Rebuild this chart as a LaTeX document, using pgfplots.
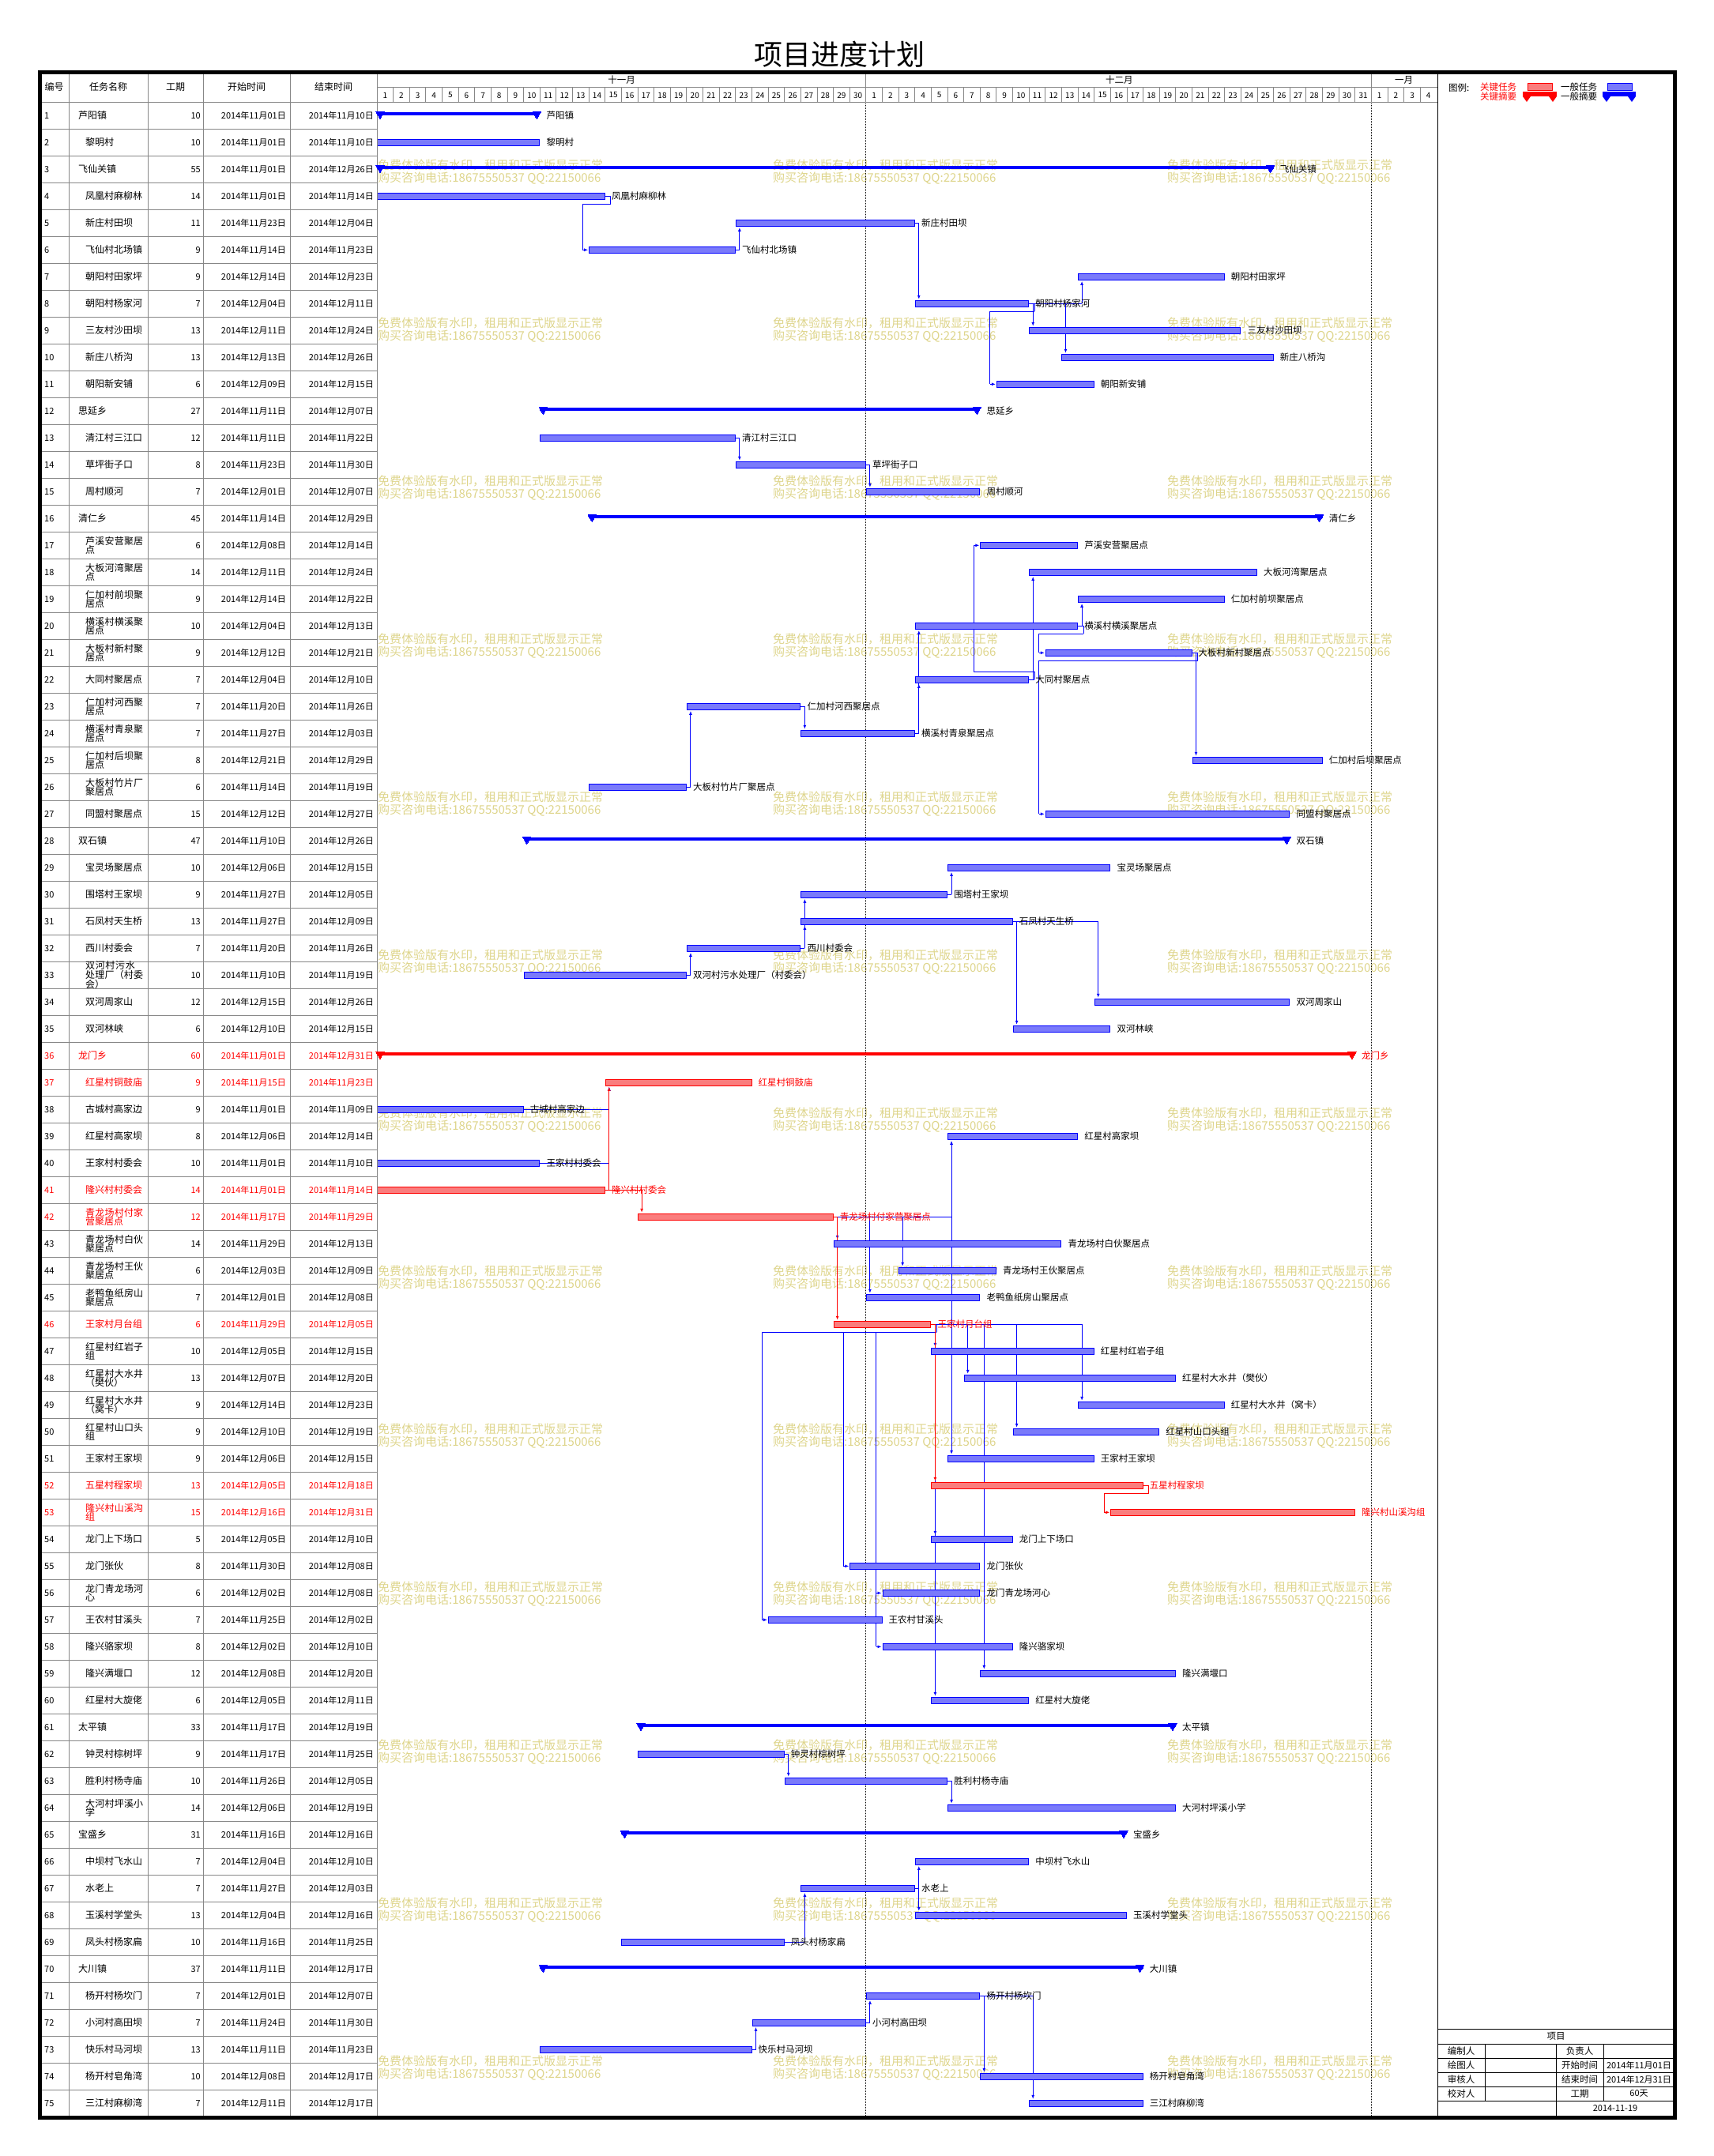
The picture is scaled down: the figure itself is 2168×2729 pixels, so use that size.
\documentclass[border=0pt]{standalone}
\usepackage{fontspec}
\setmainfont{Noto Sans CJK SC}
\usepackage{pgfplots}
\pgfplotsset{compat=1.18}
\usepackage{pgfplotstable}
\usetikzlibrary{arrows.meta}
\XeTeXlinebreaklocale "zh"
\XeTeXlinebreakskip = 0pt plus 1pt

\definecolor{wm}{RGB}{222,213,140}
\definecolor{tb}{RGB}{122,122,250}
\definecolor{tr}{RGB}{250,125,125}
\definecolor{gridc}{RGB}{135,135,135}
\newcommand{\fs}[1]{\fontsize{#1}{#1}\selectfont}

% s = start day (0 = 11月01日), typ: 0 task, 1 key task, 2 summary, 3 key summary
\pgfplotstableread{
id name dur start end s typ crit lvl
1 芦阳镇 10 2014年11月01日 2014年11月10日 0 2 0 1
2 黎明村 10 2014年11月01日 2014年11月10日 0 0 0 2
3 飞仙关镇 55 2014年11月01日 2014年12月26日 0 2 0 1
4 凤凰村麻柳林 14 2014年11月01日 2014年11月14日 0 0 0 2
5 新庄村田坝 11 2014年11月23日 2014年12月04日 22 0 0 2
6 飞仙村北场镇 9 2014年11月14日 2014年11月23日 13 0 0 2
7 朝阳村田家坪 9 2014年12月14日 2014年12月23日 43 0 0 2
8 朝阳村杨家河 7 2014年12月04日 2014年12月11日 33 0 0 2
9 三友村沙田坝 13 2014年12月11日 2014年12月24日 40 0 0 2
10 新庄八桥沟 13 2014年12月13日 2014年12月26日 42 0 0 2
11 朝阳新安铺 6 2014年12月09日 2014年12月15日 38 0 0 2
12 思延乡 27 2014年11月11日 2014年12月07日 10 2 0 1
13 清江村三江口 12 2014年11月11日 2014年11月22日 10 0 0 2
14 草坪街子口 8 2014年11月23日 2014年11月30日 22 0 0 2
15 周村顺河 7 2014年12月01日 2014年12月07日 30 0 0 2
16 清仁乡 45 2014年11月14日 2014年12月29日 13 2 0 1
17 芦溪安营聚居点 6 2014年12月08日 2014年12月14日 37 0 0 2
18 大板河湾聚居点 14 2014年12月11日 2014年12月24日 40 0 0 2
19 仁加村前坝聚居点 9 2014年12月14日 2014年12月22日 43 0 0 2
20 横溪村横溪聚居点 10 2014年12月04日 2014年12月13日 33 0 0 2
21 大板村新村聚居点 9 2014年12月12日 2014年12月21日 41 0 0 2
22 大同村聚居点 7 2014年12月04日 2014年12月10日 33 0 0 2
23 仁加村河西聚居点 7 2014年11月20日 2014年11月26日 19 0 0 2
24 横溪村青泉聚居点 7 2014年11月27日 2014年12月03日 26 0 0 2
25 仁加村后坝聚居点 8 2014年12月21日 2014年12月29日 50 0 0 2
26 大板村竹片厂聚居点 6 2014年11月14日 2014年11月19日 13 0 0 2
27 同盟村聚居点 15 2014年12月12日 2014年12月27日 41 0 0 2
28 双石镇 47 2014年11月10日 2014年12月26日 9 2 0 1
29 宝灵场聚居点 10 2014年12月06日 2014年12月15日 35 0 0 2
30 围塔村王家坝 9 2014年11月27日 2014年12月05日 26 0 0 2
31 石凤村天生桥 13 2014年11月27日 2014年12月09日 26 0 0 2
32 西川村委会 7 2014年11月20日 2014年11月26日 19 0 0 2
33 双河村污水处理厂（村委会） 10 2014年11月10日 2014年11月19日 9 0 0 2
34 双河周家山 12 2014年12月15日 2014年12月26日 44 0 0 2
35 双河林峡 6 2014年12月10日 2014年12月15日 39 0 0 2
36 龙门乡 60 2014年11月01日 2014年12月31日 0 3 1 1
37 红星村铜鼓庙 9 2014年11月15日 2014年11月23日 14 1 1 2
38 古城村高家边 9 2014年11月01日 2014年11月09日 0 0 0 2
39 红星村高家坝 8 2014年12月06日 2014年12月14日 35 0 0 2
40 王家村村委会 10 2014年11月01日 2014年11月10日 0 0 0 2
41 隆兴村村委会 14 2014年11月01日 2014年11月14日 0 1 1 2
42 青龙场村付家营聚居点 12 2014年11月17日 2014年11月29日 16 1 1 2
43 青龙场村白伙聚居点 14 2014年11月29日 2014年12月13日 28 0 0 2
44 青龙场村王伙聚居点 6 2014年12月03日 2014年12月09日 32 0 0 2
45 老鸭鱼纸房山聚居点 7 2014年12月01日 2014年12月08日 30 0 0 2
46 王家村月台组 6 2014年11月29日 2014年12月05日 28 1 1 2
47 红星村红岩子组 10 2014年12月05日 2014年12月15日 34 0 0 2
48 红星村大水井（樊伙） 13 2014年12月07日 2014年12月20日 36 0 0 2
49 红星村大水井（窝卡） 9 2014年12月14日 2014年12月23日 43 0 0 2
50 红星村山口头组 9 2014年12月10日 2014年12月19日 39 0 0 2
51 王家村王家坝 9 2014年12月06日 2014年12月15日 35 0 0 2
52 五星村程家坝 13 2014年12月05日 2014年12月18日 34 1 1 2
53 隆兴村山溪沟组 15 2014年12月16日 2014年12月31日 45 1 1 2
54 龙门上下场口 5 2014年12月05日 2014年12月10日 34 0 0 2
55 龙门张伙 8 2014年11月30日 2014年12月08日 29 0 0 2
56 龙门青龙场河心 6 2014年12月02日 2014年12月08日 31 0 0 2
57 王农村甘溪头 7 2014年11月25日 2014年12月02日 24 0 0 2
58 隆兴骆家坝 8 2014年12月02日 2014年12月10日 31 0 0 2
59 隆兴满堰口 12 2014年12月08日 2014年12月20日 37 0 0 2
60 红星村大旋佬 6 2014年12月05日 2014年12月11日 34 0 0 2
61 太平镇 33 2014年11月17日 2014年12月19日 16 2 0 1
62 钟灵村棕树坪 9 2014年11月17日 2014年11月25日 16 0 0 2
63 胜利村杨寺庙 10 2014年11月26日 2014年12月05日 25 0 0 2
64 大河村坪溪小学 14 2014年12月06日 2014年12月19日 35 0 0 2
65 宝盛乡 31 2014年11月16日 2014年12月16日 15 2 0 1
66 中坝村飞水山 7 2014年12月04日 2014年12月10日 33 0 0 2
67 水老上 7 2014年11月27日 2014年12月03日 26 0 0 2
68 玉溪村学堂头 13 2014年12月04日 2014年12月16日 33 0 0 2
69 凤头村杨家扁 10 2014年11月16日 2014年11月25日 15 0 0 2
70 大川镇 37 2014年11月11日 2014年12月17日 10 2 0 1
71 杨开村杨坎门 7 2014年12月01日 2014年12月07日 30 0 0 2
72 小河村高田坝 7 2014年11月24日 2014年11月30日 23 0 0 2
73 快乐村马河坝 13 2014年11月11日 2014年11月23日 10 0 0 2
74 杨开村皂角湾 10 2014年12月08日 2014年12月17日 37 0 0 2
75 三江村麻柳湾 7 2014年12月11日 2014年12月17日 40 0 0 2
}\tasks

% links: xe = end day of predecessor, yp = its row, xs = start day of successor, ys = its row
\pgfplotstableread{
xe yp xs ys
22 6 22 5
33 5 33 8
40 8 40 9
40 8 42 10
40 8 43 7
22 13 22 14
30 14 30 15
19 26 19 23
26 23 26 24
33 24 33 20
33 24 33 22
43 20 43 19
40 22 40 18
50 21 50 25
19 33 19 32
26 32 26 30
26 32 26 31
35 30 35 29
39 31 39 35
39 31 44 34
9 38 14 37
10 40 14 37
28 42 28 43
28 42 30 45
28 42 32 44
28 42 35 39
28 42 35 51
34 46 34 47
34 46 36 48
34 46 43 49
34 46 39 50
34 46 34 54
34 46 34 60
34 46 37 59
25 62 25 63
35 63 35 64
25 69 26 67
33 67 33 66
33 67 33 68
23 73 23 72
30 72 30 71
37 71 37 74
37 71 40 75
}\fwdblue

\pgfplotstableread{
xe yp xs ys
14 4 13 6
40 8 38 11
40 22 37 17
43 20 41 21
50 21 41 27
34 46 29 55
34 46 31 56
34 46 24 57
34 46 31 58
}\bwdblue

\pgfplotstableread{
xe yp xs ys
14 41 14 37
14 41 16 42
28 42 28 46
34 46 34 52
}\fwdred

\pgfplotstableread{
xe yp xs ys
47 52 45 53
}\bwdred

\newcommand{\fwdlinks}[2]{%
\addplot [#2, line width=1pt, quiver={u=20.63*(\thisrow{xs}-\thisrow{xe})+5, v=0}]
  table [x expr=477+20.63*\thisrow{xe}, y expr=112.3+34*\thisrow{yp}] {#1};
\addplot [#2, line width=1pt, -{Latex[length=5pt,width=4pt]},
  quiver={u=0, v={34*(\thisrow{ys}-\thisrow{yp})-5.5*(\thisrow{ys}-\thisrow{yp})/abs(\thisrow{ys}-\thisrow{yp})}}]
  table [x expr=482+20.63*\thisrow{xs}, y expr=112.3+34*\thisrow{yp}] {#1};
}
\newcommand{\dd}{((\thisrow{ys}-\thisrow{yp})/abs(\thisrow{ys}-\thisrow{yp}))}
\newcommand{\bwdlinks}[2]{%
\addplot [#2, line width=1pt, quiver={u=7, v=0}]
  table [x expr=477+20.63*\thisrow{xe}, y expr=112.3+34*\thisrow{yp}] {#1};
\addplot [#2, line width=1pt, quiver={u=0, v=10*\dd}]
  table [x expr=484+20.63*\thisrow{xe}, y expr=112.3+34*\thisrow{yp}] {#1};
\addplot [#2, line width=1pt, quiver={u=20.63*(\thisrow{xs}-\thisrow{xe})-15, v=0}]
  table [x expr=484+20.63*\thisrow{xe}, y expr=112.3+34*\thisrow{yp}+10*\dd] {#1};
\addplot [#2, line width=1pt, quiver={u=0, v=34*(\thisrow{ys}-\thisrow{yp})-10*\dd}]
  table [x expr=469+20.63*\thisrow{xs}, y expr=112.3+34*\thisrow{yp}+10*\dd] {#1};
\addplot [#2, line width=1pt, -{Latex[length=5pt,width=4pt]}, quiver={u=7, v=0}]
  table [x expr=469+20.63*\thisrow{xs}, y expr=112.3+34*\thisrow{ys}] {#1};
}
% one text column of the table: x, column, anchor, crit, colour
\newcommand{\txtcol}[5]{%
\addplot [draw=none, point meta=explicit symbolic, nodes near coords={\pgfplotspointmeta},
  every node near coord/.append style={anchor=#3, text=#5, inner sep=0pt, font=\fs{11}},
  restrict expr to domain={\thisrow{crit}}{#4:#4}]
  table [x expr={#1}, y expr=112.3+34*\thisrow{id}, meta=#2] {\tasks};
}

\begin{document}
\begin{tikzpicture}
\begin{axis}[
  scale only axis, width=2168pt, height=2729pt,
  xmin=0, xmax=2168, ymin=0, ymax=2729, y dir=reverse,
  hide axis, clip=false,
]
\path (0,0) rectangle (2168,2729);

% watermark
\pgfplotsinvokeforeach{0,...,12}{
  \node[anchor=west, inner sep=0pt, text=wm, font=\fs{15}] at (478,{209+200*#1}) {免费体验版有水印，租用和正式版显示正常};
  \node[anchor=west, inner sep=0pt, text=wm, font=\fs{15}] at (478,{226+200*#1}) {购买咨询电话:18675550537 QQ:22150066};
  \node[anchor=west, inner sep=0pt, text=wm, font=\fs{15}] at (978,{209+200*#1}) {免费体验版有水印，租用和正式版显示正常};
  \node[anchor=west, inner sep=0pt, text=wm, font=\fs{15}] at (978,{226+200*#1}) {购买咨询电话:18675550537 QQ:22150066};
  \node[anchor=west, inner sep=0pt, text=wm, font=\fs{15}] at (1477,{209+200*#1}) {免费体验版有水印，租用和正式版显示正常};
  \node[anchor=west, inner sep=0pt, text=wm, font=\fs{15}] at (1477,{226+200*#1}) {购买咨询电话:18675550537 QQ:22150066};
}

% month dividers (dotted through the chart)
\draw[black, densely dotted, line width=1pt] (1095.9,129.3) -- (1095.9,2680);
\draw[black, densely dotted, line width=1pt] (1735.4,129.3) -- (1735.4,2680);

% links
\fwdlinks{\fwdblue}{blue}
\bwdlinks{\bwdblue}{blue}
\fwdlinks{\fwdred}{red}
\bwdlinks{\bwdred}{red}

% task bars
\addplot [blue, line width=9.5pt, quiver={u=20.63*\thisrow{dur}, v=0}, restrict expr to domain={\thisrow{typ}}{0:0}]
  table [x expr=477+20.63*\thisrow{s}, y expr=112.3+34*\thisrow{id}] {\tasks};
\addplot [tb, line width=7.5pt, quiver={u=20.63*\thisrow{dur}-2, v=0}, restrict expr to domain={\thisrow{typ}}{0:0}]
  table [x expr=478+20.63*\thisrow{s}, y expr=112.3+34*\thisrow{id}] {\tasks};
\addplot [red, line width=9.5pt, quiver={u=20.63*\thisrow{dur}, v=0}, restrict expr to domain={\thisrow{typ}}{1:1}]
  table [x expr=477+20.63*\thisrow{s}, y expr=112.3+34*\thisrow{id}] {\tasks};
\addplot [tr, line width=7.5pt, quiver={u=20.63*\thisrow{dur}-2, v=0}, restrict expr to domain={\thisrow{typ}}{1:1}]
  table [x expr=478+20.63*\thisrow{s}, y expr=112.3+34*\thisrow{id}] {\tasks};

% summary bars
\addplot [blue, line width=4.6pt, quiver={u=20.63*\thisrow{dur}, v=0}, restrict expr to domain={\thisrow{typ}}{2:2}]
  table [x expr=477+20.63*\thisrow{s}, y expr=110+34*\thisrow{id}] {\tasks};
\addplot [blue, only marks, mark=triangle*, mark size=6pt, mark options={rotate=180, line width=0pt}, restrict expr to domain={\thisrow{typ}}{2:2}]
  table [x expr=481+20.63*\thisrow{s}, y expr=110.3+34*\thisrow{id}] {\tasks};
\addplot [blue, only marks, mark=triangle*, mark size=6pt, mark options={rotate=180, line width=0pt}, restrict expr to domain={\thisrow{typ}}{2:2}]
  table [x expr=473+20.63*(\thisrow{s}+\thisrow{dur}), y expr=110.3+34*\thisrow{id}] {\tasks};
\addplot [red, line width=4.6pt, quiver={u=20.63*\thisrow{dur}, v=0}, restrict expr to domain={\thisrow{typ}}{3:3}]
  table [x expr=477+20.63*\thisrow{s}, y expr=110+34*\thisrow{id}] {\tasks};
\addplot [red, only marks, mark=triangle*, mark size=6pt, mark options={rotate=180, line width=0pt}, restrict expr to domain={\thisrow{typ}}{3:3}]
  table [x expr=481+20.63*\thisrow{s}, y expr=110.3+34*\thisrow{id}] {\tasks};
\addplot [red, only marks, mark=triangle*, mark size=6pt, mark options={rotate=180, line width=0pt}, restrict expr to domain={\thisrow{typ}}{3:3}]
  table [x expr=473+20.63*(\thisrow{s}+\thisrow{dur}), y expr=110.3+34*\thisrow{id}] {\tasks};

% bar labels
\addplot [draw=none, point meta=explicit symbolic, nodes near coords={\pgfplotspointmeta},
  every node near coord/.append style={anchor=west, text=black, inner sep=0pt, font=\fs{11.5}},
  restrict expr to domain={\thisrow{crit}}{0:0}]
  table [x expr=485+20.63*(\thisrow{s}+\thisrow{dur}), y expr=112.3+34*\thisrow{id}, meta=name] {\tasks};
\addplot [draw=none, point meta=explicit symbolic, nodes near coords={\pgfplotspointmeta},
  every node near coord/.append style={anchor=west, text=red, inner sep=0pt, font=\fs{11.5}},
  restrict expr to domain={\thisrow{crit}}{1:1}]
  table [x expr=485+20.63*(\thisrow{s}+\thisrow{dur}), y expr=112.3+34*\thisrow{id}, meta=name] {\tasks};

% table columns
\txtcol{56}{id}{west}{0}{black}
\txtcol{56}{id}{west}{1}{red}
\txtcol{254}{dur}{east}{0}{black}
\txtcol{254}{dur}{east}{1}{red}
\txtcol{362}{start}{east}{0}{black}
\txtcol{362}{start}{east}{1}{red}
\txtcol{473}{end}{east}{0}{black}
\txtcol{473}{end}{east}{1}{red}
\addplot [draw=none, point meta=explicit symbolic, nodes near coords={\pgfplotspointmeta},
  every node near coord/.append style={anchor=west, text=black, inner sep=0pt, text width=78pt, align=left, font=\fontsize{12}{11.4}\selectfont},
  restrict expr to domain={\thisrow{crit}}{0:0}]
  table [x expr=90+9*\thisrow{lvl}, y expr=112.3+34*\thisrow{id}, meta=name] {\tasks};
\addplot [draw=none, point meta=explicit symbolic, nodes near coords={\pgfplotspointmeta},
  every node near coord/.append style={anchor=west, text=red, inner sep=0pt, text width=78pt, align=left, font=\fontsize{12}{11.4}\selectfont},
  restrict expr to domain={\thisrow{crit}}{1:1}]
  table [x expr=90+9*\thisrow{lvl}, y expr=112.3+34*\thisrow{id}, meta=name] {\tasks};

% grid of the table
\pgfplotsinvokeforeach{1,...,74}{
  \draw[gridc, line width=1pt] (50,{129.3+34*#1}) -- (477,{129.3+34*#1});
}
\pgfplotsinvokeforeach{87,187,257,367,477}{
  \draw[gridc, line width=1pt] (#1,91) -- (#1,2680);
}
\draw[gridc, line width=1pt] (50,129.3) -- (1819,129.3);
\draw[gridc, line width=1pt] (477,111) -- (1819,111);
\pgfplotsinvokeforeach{1,...,64}{
  \draw[gridc, line width=1pt] ({477+20.63*#1},111) -- ({477+20.63*#1},129.3);
}
\draw[gridc, line width=1pt] (1095.9,91) -- (1095.9,129.3);
\draw[gridc, line width=1pt] (1735.4,91) -- (1735.4,129.3);
\draw[black, line width=1pt] (1819,91) -- (1819,2680);

% header
\node[font=\fs{36}] at (1062,69) {项目进度计划};
\node[font=\fs{12}] at (68.5,110) {编号};
\node[font=\fs{12}] at (137,110) {任务名称};
\node[font=\fs{12}] at (222,110) {工期};
\node[font=\fs{12}] at (312,110) {开始时间};
\node[font=\fs{12}] at (422,110) {结束时间};
\node[font=\fs{11.5}] at (786.5,101) {十一月};
\node[font=\fs{11.5}] at (1416.4,101) {十二月};
\node[font=\fs{11.5}] at (1776.7,101) {一月};
\pgfplotsinvokeforeach{1,...,30}{
  \node[font=\fs{10}, inner sep=0pt] at ({477+20.63*(#1-0.5)},120.5) {#1};
}
\pgfplotsinvokeforeach{1,...,31}{
  \node[font=\fs{10}, inner sep=0pt] at ({477+20.63*(29.5+#1)},120.5) {#1};
}
\pgfplotsinvokeforeach{1,...,4}{
  \node[font=\fs{10}, inner sep=0pt] at ({477+20.63*(60.5+#1)},120.5) {#1};
}

% legend
\node[anchor=west, inner sep=0pt, font=\fs{11.5}] at (1833,111) {图例:};
\node[anchor=west, inner sep=0pt, font=\fs{11.5}, text=red] at (1873,110.5) {关键任务};
\node[anchor=west, inner sep=0pt, font=\fs{11.5}, text=red] at (1873,122.5) {关键摘要};
\node[anchor=west, inner sep=0pt, font=\fs{11.5}] at (1975,110.5) {一般任务};
\node[anchor=west, inner sep=0pt, font=\fs{11.5}] at (1975,122.5) {一般摘要};
\draw[red, fill=tr, line width=1pt] (1933,106) rectangle (1964,115);
\fill[red] (1927,116) rectangle (1970,122);
\fill[red] (1927,122) -- (1937,122) -- (1932,129) -- cycle;
\fill[red] (1960,122) -- (1970,122) -- (1965,129) -- cycle;
\draw[blue, fill=tb, line width=1pt] (2034,106) rectangle (2065,115);
\fill[blue] (2028,116) rectangle (2070,122);
\fill[blue] (2028,122) -- (2038,122) -- (2033,129) -- cycle;
\fill[blue] (2060,122) -- (2070,122) -- (2065,129) -- cycle;

% sign-off table
\pgfplotsinvokeforeach{2568,2587,2605,2623,2641,2659}{
  \draw[black, line width=1pt] (1819,#1) -- (2119,#1);
}
\draw[black, line width=1pt] (1879,2587) -- (1879,2659);
\draw[black, line width=1pt] (1969,2587) -- (1969,2680);
\draw[black, line width=1pt] (2029,2587) -- (2029,2659);
\node[font=\fs{11.5}] at (1969,2577.5) {项目};
\node[font=\fs{11.5}] at (1849,2596) {编制人};
\node[font=\fs{11.5}] at (1849,2614) {绘图人};
\node[font=\fs{11.5}] at (1849,2632) {审核人};
\node[font=\fs{11.5}] at (1849,2650) {校对人};
\node[font=\fs{11.5}] at (1999,2596) {负责人};
\node[font=\fs{11.5}] at (1999,2614) {开始时间};
\node[font=\fs{11.5}] at (1999,2632) {结束时间};
\node[font=\fs{11.5}] at (1999,2650) {工期};
\node[font=\fs{11}] at (2074,2614) {2014年11月01日};
\node[font=\fs{11}] at (2074,2632) {2014年12月31日};
\node[font=\fs{11}] at (2074,2650) {60天};
\node[font=\fs{11}] at (2044,2668.5) {2014-11-19};

% frame
\draw[black, line width=4.5pt] (50.3,91.5) rectangle (2119.5,2680.5);
\end{axis}
\end{tikzpicture}
\end{document}
